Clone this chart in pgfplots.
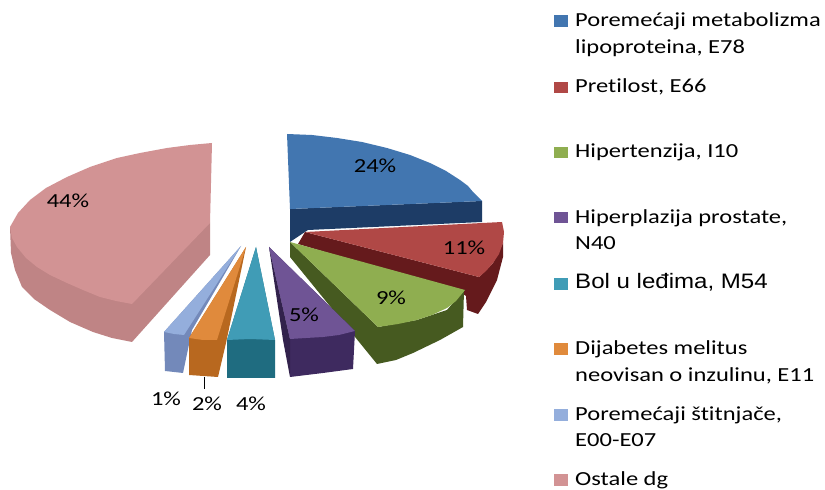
\documentclass[border=0pt]{standalone}
\usepackage{fontspec}
\setmainfont{Carlito}[FakeStretch=1.23,Ligatures=NoCommon]
\newfontfamily\arialf{Liberation Sans}[FakeStretch=1.15]
\usepackage{pgfplots}
\pgfplotsset{compat=1.18}
\definecolor{blueT}{HTML}{4276B0}\definecolor{blueS}{HTML}{1D3C66}
\definecolor{redT}{HTML}{B04846}\definecolor{redS}{HTML}{651A1C}
\definecolor{greenT}{HTML}{8FAE50}\definecolor{greenS}{HTML}{465A20}
\definecolor{purpT}{HTML}{6F5495}\definecolor{purpS}{HTML}{3E2A5F}
\definecolor{tealT}{HTML}{409CB6}\definecolor{tealS}{HTML}{1F6C80}
\definecolor{orT}{HTML}{E08A3C}\definecolor{orS}{HTML}{B8681F}
\definecolor{ltT}{HTML}{94AEDC}\definecolor{ltS}{HTML}{7389BA}
\definecolor{pkT}{HTML}{D29394}\definecolor{pkS}{HTML}{BF8485}
\newcommand{\poly}[2]{\addplot[fill=#1,draw=none,forget plot] coordinates {#2} -- cycle;}
\newcommand{\lab}[2]{\node[font=\fontsize{20}{24}\selectfont,inner sep=0pt] at (axis cs:#1) {#2};}
\newcommand{\leg}[2]{\node[font=\fontsize{20}{24}\selectfont,anchor=base west,inner sep=0pt] at (axis cs:575,#1) {#2};}
\begin{document}
\begin{tikzpicture}
\begin{axis}[width=825bp,height=490bp,scale only axis,axis lines=none,
  xmin=0,xmax=825,ymin=0,ymax=490,y dir=reverse,clip=false]
\fill[white] (axis cs:0,0) rectangle (axis cs:825,490);
% Ostale dg
\poly{pkS}{(10,227)(11,253)(15,270)(22,287)(34,299)(50,310)(70,322)(93,332)(112,338)(132,342)(210,255)(210,223)}
\poly{pkT}{(212,143)(190,145)(167,148)(140,153)(117,158)(90,167)(67,177)(46,188)(30,200)(18,213)(10,227)(12,238)(17,247)(26,258)(37,267)(50,275)(67,283)(83,290)(100,297)(116,301)(132,304)(210,223)}
% Poremecaji stitnjace
\poly{ltS}{(241,246)(192,330)(183,373)(165,371)(164,332)}
\poly{ltT}{(241,246)(164,332)(174,334)(184,335)}
% Dijabetes
\poly{orS}{(246,247)(226,343)(218,377)(189,375)(189,338)}
\poly{orT}{(246,247)(189,338)(203,340)(217,340)}
% Bol u ledjima
\poly{tealS}{(256,247)(275,340)(275,378)(227,378)(227,340)}
\poly{tealT}{(256,247)(227,340)(250,339)(275,340)}
% blue, red, green, purple
\poly{blueS}{(290,209)(482,201)(482,222)(308,230)(305,232)(290,242)}
\poly{blueT}{(287,134)(312,135)(337,138)(362,142)(387,148)(410,155)(430,163)(446,171)(460,180)(468,186)(473,192)(482,201)(290,209)}
\poly{redS}{(305,232)(298,244)(460,292)(466,296)(467,310)(478,314)(486,302)(497,280)(503,257)(503,243)(493,263)(479,277)}
\poly{redT}{(305,232)(502,222)(504,232)(503,243)(499,254)(493,263)(486,271)(479,277)}
\poly{greenS}{(290,242)(290,257)(377,364)(396,360)(413,353)(440,340)(463,327)(464,290)(447,310)(417,320)(378,327)}
\poly{greenT}{(290,242)(465,290)(456,301)(447,308)(432,315)(417,320)(398,324)(378,327)}
\poly{purpS}{(269,247)(290,339)(290,377)(323,373)(353,369)(355,331)}
\addplot[fill=purpS!80!black,draw=none,forget plot] coordinates {(269,247)(290,339)(290,377)(283,340)} -- cycle;
\poly{purpT}{(269,247)(355,331)(339,335)(323,337)(306,338)(290,339)}
% leader line
\addplot[black,line width=1pt,forget plot] coordinates {(204,377)(204,389)};
% data labels
\lab{375,166}{24\%}
\lab{464,248}{11\%}
\lab{391,298}{9\%}
\lab{304,315}{5\%}
\lab{68,201}{44\%}
\lab{166,399}{1\%}
\lab{207,404}{2\%}
\lab{251,404}{4\%}
% legend swatches
\poly{blueT}{(554,15)(568,15)(568,27)(554,27)}
\poly{redT}{(554,82)(568,82)(568,93)(554,93)}
\poly{greenT}{(554,147)(568,147)(568,158)(554,158)}
\poly{purpT}{(554,212)(568,212)(568,223)(554,223)}
\poly{tealT}{(554,278)(568,278)(568,290)(554,290)}
\poly{orT}{(554,343)(568,343)(568,355)(554,355)}
\poly{ltT}{(554,409)(568,409)(568,421)(554,421)}
\poly{pkT}{(554,474)(568,474)(568,486)(554,486)}
% legend text
\leg{27}{Poremećaji metabolizma}
\leg{54}{lipoproteina, E78}
\leg{93}{Pretilost, E66}
\leg{158}{Hipertenzija, I10}
\leg{224}{Hiperplazija prostate,}
\leg{250}{N40}
\node[anchor=base west,inner sep=0pt,font=\arialf\fontsize{21}{24}\selectfont] at (axis cs:575,289) {Bol u leđima, M54};
\leg{355}{Dijabetes melitus}
\leg{382}{neovisan o inzulinu, E11}
\leg{421}{Poremećaji štitnjače,}
\leg{447}{E00-E07}
\leg{486}{Ostale dg}
\end{axis}
\end{tikzpicture}
\end{document}
